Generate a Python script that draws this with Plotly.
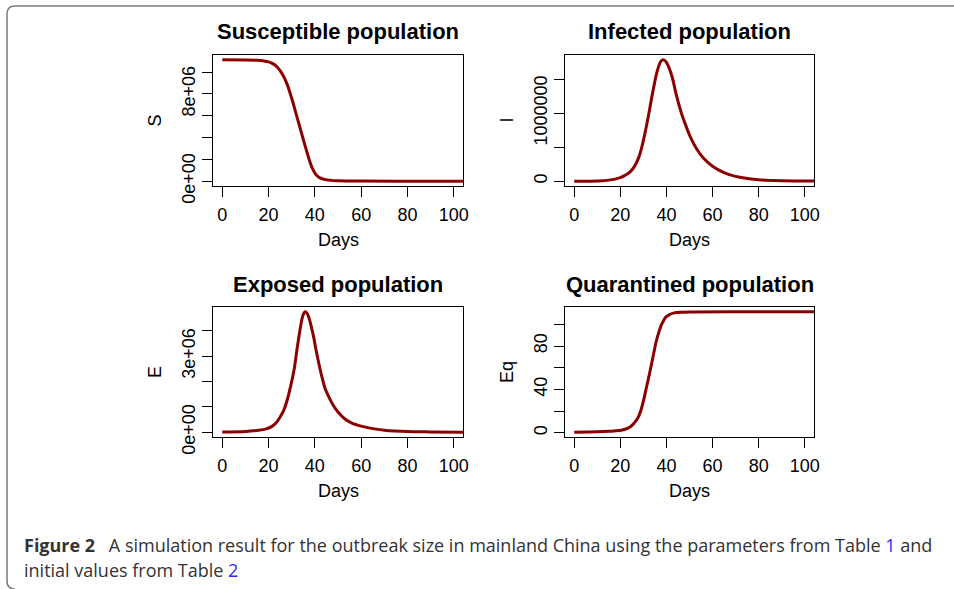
import plotly.graph_objects as go

W, H = 954, 589

# ---------------- data ----------------
days_S = [0, 10, 15, 18, 20, 22, 24, 26, 28, 30, 32, 34, 36, 38, 39, 40, 41, 42, 44, 47, 50, 60, 80, 104]
S_vals = [11.12e6, 11.11e6, 11.08e6, 11.02e6, 10.93e6, 10.75e6, 10.4e6, 9.8e6, 8.9e6, 7.6e6, 6.1e6,
          4.6e6, 3.1e6, 1.7e6, 1.15e6, 0.75e6, 0.5e6, 0.33e6, 0.17e6, 0.08e6, 0.05e6, 0.02e6, 0.01e6, 0.01e6]

days_I = [0, 10, 15, 20, 22, 24, 26, 28, 30, 32, 34, 36, 37.5, 38.5, 39.5, 41, 42.5, 44.5, 46.5,
          48.5, 50.5, 53, 56, 60, 65, 70, 75, 80, 90, 104]
I_vals = [0, 3e3, 15e3, 53e3, 85e3, 128e3, 210e3, 350e3, 598e3, 930e3, 1.3e6, 1.62e6, 1.76e6,
          1.786e6, 1.77e6, 1.68e6, 1.53e6, 1.24e6, 1.0e6, 0.81e6, 0.64e6, 0.48e6, 0.34e6, 0.22e6,
          0.125e6, 0.07e6, 0.04e6, 0.02e6, 6e3, 1e3]

days_E = [0, 10, 15, 19, 21.5, 23.5, 25, 26.5, 28, 29.5, 31, 32.5, 34, 35, 35.8, 36.6, 37.5, 38.5,
          39.5, 40.5, 41.6, 43, 44.5, 46, 48, 50, 53, 56, 60, 65, 70, 80, 90, 104]
E_vals = [0.01e6, 0.03e6, 0.07e6, 0.13e6, 0.23e6, 0.39e6, 0.6e6, 0.85e6, 1.25e6, 1.8e6, 2.45e6,
          3.4e6, 4.25e6, 4.65e6, 4.75e6, 4.7e6, 4.5e6, 4.15e6, 3.75e6, 3.25e6, 2.76e6, 2.2e6, 1.7e6,
          1.4e6, 1.05e6, 0.8e6, 0.52e6, 0.36e6, 0.24e6, 0.14e6, 0.08e6, 0.025e6, 0.01e6, 0.0]

days_Eq = [0, 10, 15, 19.6, 22, 24, 25.5, 26.9, 28, 29.1, 30.2, 31.2, 32.3, 33.4, 34.5, 35.5, 36.6,
           37.7, 38.8, 39.8, 41.5, 43.4, 47, 51.4, 70, 104]
Eq_vals = [0.6, 1.0, 1.4, 2.1, 3.3, 5.2, 7.8, 11.4, 15.5, 22, 31, 40.6, 51, 62, 73.5, 83.7, 92,
           99, 103.5, 106.8, 109.2, 110.5, 111.1, 111.3, 111.5, 111.5]

x_ticks = [0, 20, 40, 60, 80, 100]
S_ticks = [0, 2e6, 4e6, 6e6, 8e6, 10e6]
S_ticktext = ["0e+00", "", "", "", "8e+06", ""]
I_ticks = [0, 5e5, 1e6, 1.5e6]
I_ticktext = ["0", "", "1000000", ""]
E_ticks = [0, 1e6, 2e6, 3e6, 4e6]
E_ticktext = ["0e+00", "", "", "3e+06", ""]
Eq_ticks = [0, 20, 40, 60, 80, 100]
Eq_ticktext = ["0", "", "40", "", "80", ""]

titles = ["Susceptible population", "Infected population", "Exposed population", "Quarantined population"]
ylabels = ["S", "I", "E", "Eq"]
xlabel = "Days"

# ---------------- layout helpers ----------------
def px(x):
    return x / W

def py(y):
    return 1 - y / H

# panel boxes in pixels: (left, right, top, bottom)
boxes = [(213, 463, 55, 186), (565, 814, 55, 186), (213, 463, 307, 437), (565, 814, 307, 437)]

def rng(v):
    lo, hi = min(v), max(v)
    d = hi - lo
    return [lo - 0.04 * d, hi + 0.04 * d]

series = [
    (days_S, S_vals, S_ticks, S_ticktext),
    (days_I, I_vals, I_ticks, I_ticktext),
    (days_E, E_vals, E_ticks, E_ticktext),
    (days_Eq, Eq_vals, Eq_ticks, Eq_ticktext),
]

FONT = "Liberation Sans, Arial, sans-serif"
fig = go.Figure()
layout = dict(
    width=W, height=H, autosize=False,
    margin=dict(l=0, r=0, t=0, b=0),
    paper_bgcolor="white", plot_bgcolor="white",
    showlegend=False,
    font=dict(family=FONT, size=18, color="black"),
)
annotations = []
for i, ((xd, yd, yt, ytt), (l, r, t, b)) in enumerate(zip(series, boxes)):
    k = "" if i == 0 else str(i + 1)
    fig.add_trace(go.Scatter(
        x=xd, y=yd, mode="lines", line=dict(color="#8B0000", width=3, shape="spline", smoothing=1.0),
        xaxis="x" + k, yaxis="y" + k, hoverinfo="skip"))
    common = dict(showline=True, linecolor="black", linewidth=1.2, mirror=True,
                  ticks="outside", ticklen=10, tickwidth=1.2, tickcolor="black",
                  showgrid=False, zeroline=False, automargin=False,
                  tickfont=dict(family=FONT, size=18, color="black"))
    layout["xaxis" + k] = dict(domain=[px(l), px(r)], anchor="y" + k, range=[-4, 104],
                               tickvals=x_ticks, ticktext=[str(v) for v in x_ticks],
                               ticklabelstandoff=2, **common)
    layout["yaxis" + k] = dict(domain=[py(b), py(t)], anchor="x" + k, range=rng(yd),
                               tickvals=yt, ticktext=ytt, tickangle=-90,
                               ticklabelstandoff=0, **common)
    cx = (l + r) / 2
    annotations.append(dict(text="<b>" + titles[i] + "</b>", x=px(cx), y=py(t - 23),
                            xref="paper", yref="paper", showarrow=False,
                            font=dict(family=FONT, size=22, color="black"),
                            xanchor="center", yanchor="middle"))
    annotations.append(dict(text=xlabel, x=px(cx), y=py(b + 54), xref="paper", yref="paper",
                            showarrow=False, font=dict(family=FONT, size=18, color="black"),
                            xanchor="center", yanchor="middle"))
    annotations.append(dict(text=ylabels[i], x=px(l - 58), y=py((t + b) / 2), xref="paper", yref="paper",
                            showarrow=False, textangle=-90,
                            font=dict(family=FONT, size=18, color="black"),
                            xanchor="center", yanchor="middle"))

CAP_FONT = "Open Sans, sans-serif"
blue = "#2b2bff"
annotations.append(dict(
    text="<b>Figure 2</b>\u2002 A simulation result for the outbreak size in mainland China using the parameters from Table "
         "<span style='color:" + blue + "'>1</span> and",
    x=px(22), y=py(545), xref="paper", yref="paper", showarrow=False,
    xanchor="left", yanchor="middle", font=dict(family=CAP_FONT, size=18, color="#333333")))
annotations.append(dict(
    text="initial values from Table <span style='color:" + blue + "'>2</span>",
    x=px(22), y=py(570), xref="paper", yref="paper", showarrow=False,
    xanchor="left", yanchor="middle", font=dict(family=CAP_FONT, size=18, color="#333333")))
layout["annotations"] = annotations

# rounded frame
path = "M {a},{b} L {c},{b} Q {d},{b} {d},{e} L {d},{f} Q {d},{g} {c},{g}".format(
    a=px(954), b=py(6), c=px(15), d=px(7), e=py(14), f=py(581), g=py(589))
layout["shapes"] = [dict(type="path", path=path, xref="paper", yref="paper",
                         line=dict(color="#7a7a7a", width=1.5))]

fig.update_layout(**layout)
fig.write_html("out.html",
               config={"responsive": False, "displayModeBar": False},
               post_script="document.body.style.margin='0';document.body.style.overflow='hidden';")
